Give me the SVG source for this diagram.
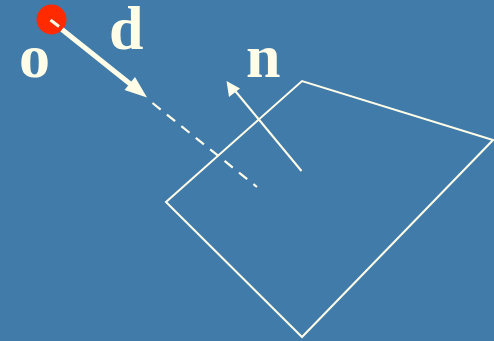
<svg xmlns="http://www.w3.org/2000/svg" width="494" height="341" viewBox="0 0 494 341">
<style>
.lbl{font-family:"Liberation Serif","Times New Roman",serif;font-weight:bold;font-size:62px;fill:#FFFDE8}
.ln{stroke:#FFFDE8;fill:none;stroke-linecap:butt}
.ah{fill:#FFFDE8}
</style>
<rect width="494" height="341" fill="#417BAA"/>
<g id="polygon">
<polygon class="ln" stroke-width="2" stroke-linejoin="miter" points="166,202 302,81 493,140 302,337"/>
</g>
<g id="origin">
<circle cx="51.5" cy="19.5" r="15" fill="#FF2A00"/>
</g>
<g id="connectors">
<line class="ln" x1="50.5" y1="20" x2="59" y2="26.5" stroke-width="3"/>
<line class="ln" x1="62" y1="29.5" x2="134" y2="87" stroke-width="5"/>
<polygon class="ah" points="147,97.5 124.5,90 135,77"/>
<line class="ln" x1="152.5" y1="103" x2="257" y2="187" stroke-width="2.2" stroke-dasharray="10.5 8"/>
<line class="ln" x1="301.5" y1="171" x2="234" y2="89.5" stroke-width="2"/>
<polygon class="ah" points="226.5,81 240,88.5 229,97"/>
</g>
<g id="labels">
<text class="lbl" x="19" y="77">o</text>
<text class="lbl" x="109" y="49">d</text>
<text class="lbl" x="246" y="77">n</text>
</g>
</svg>
